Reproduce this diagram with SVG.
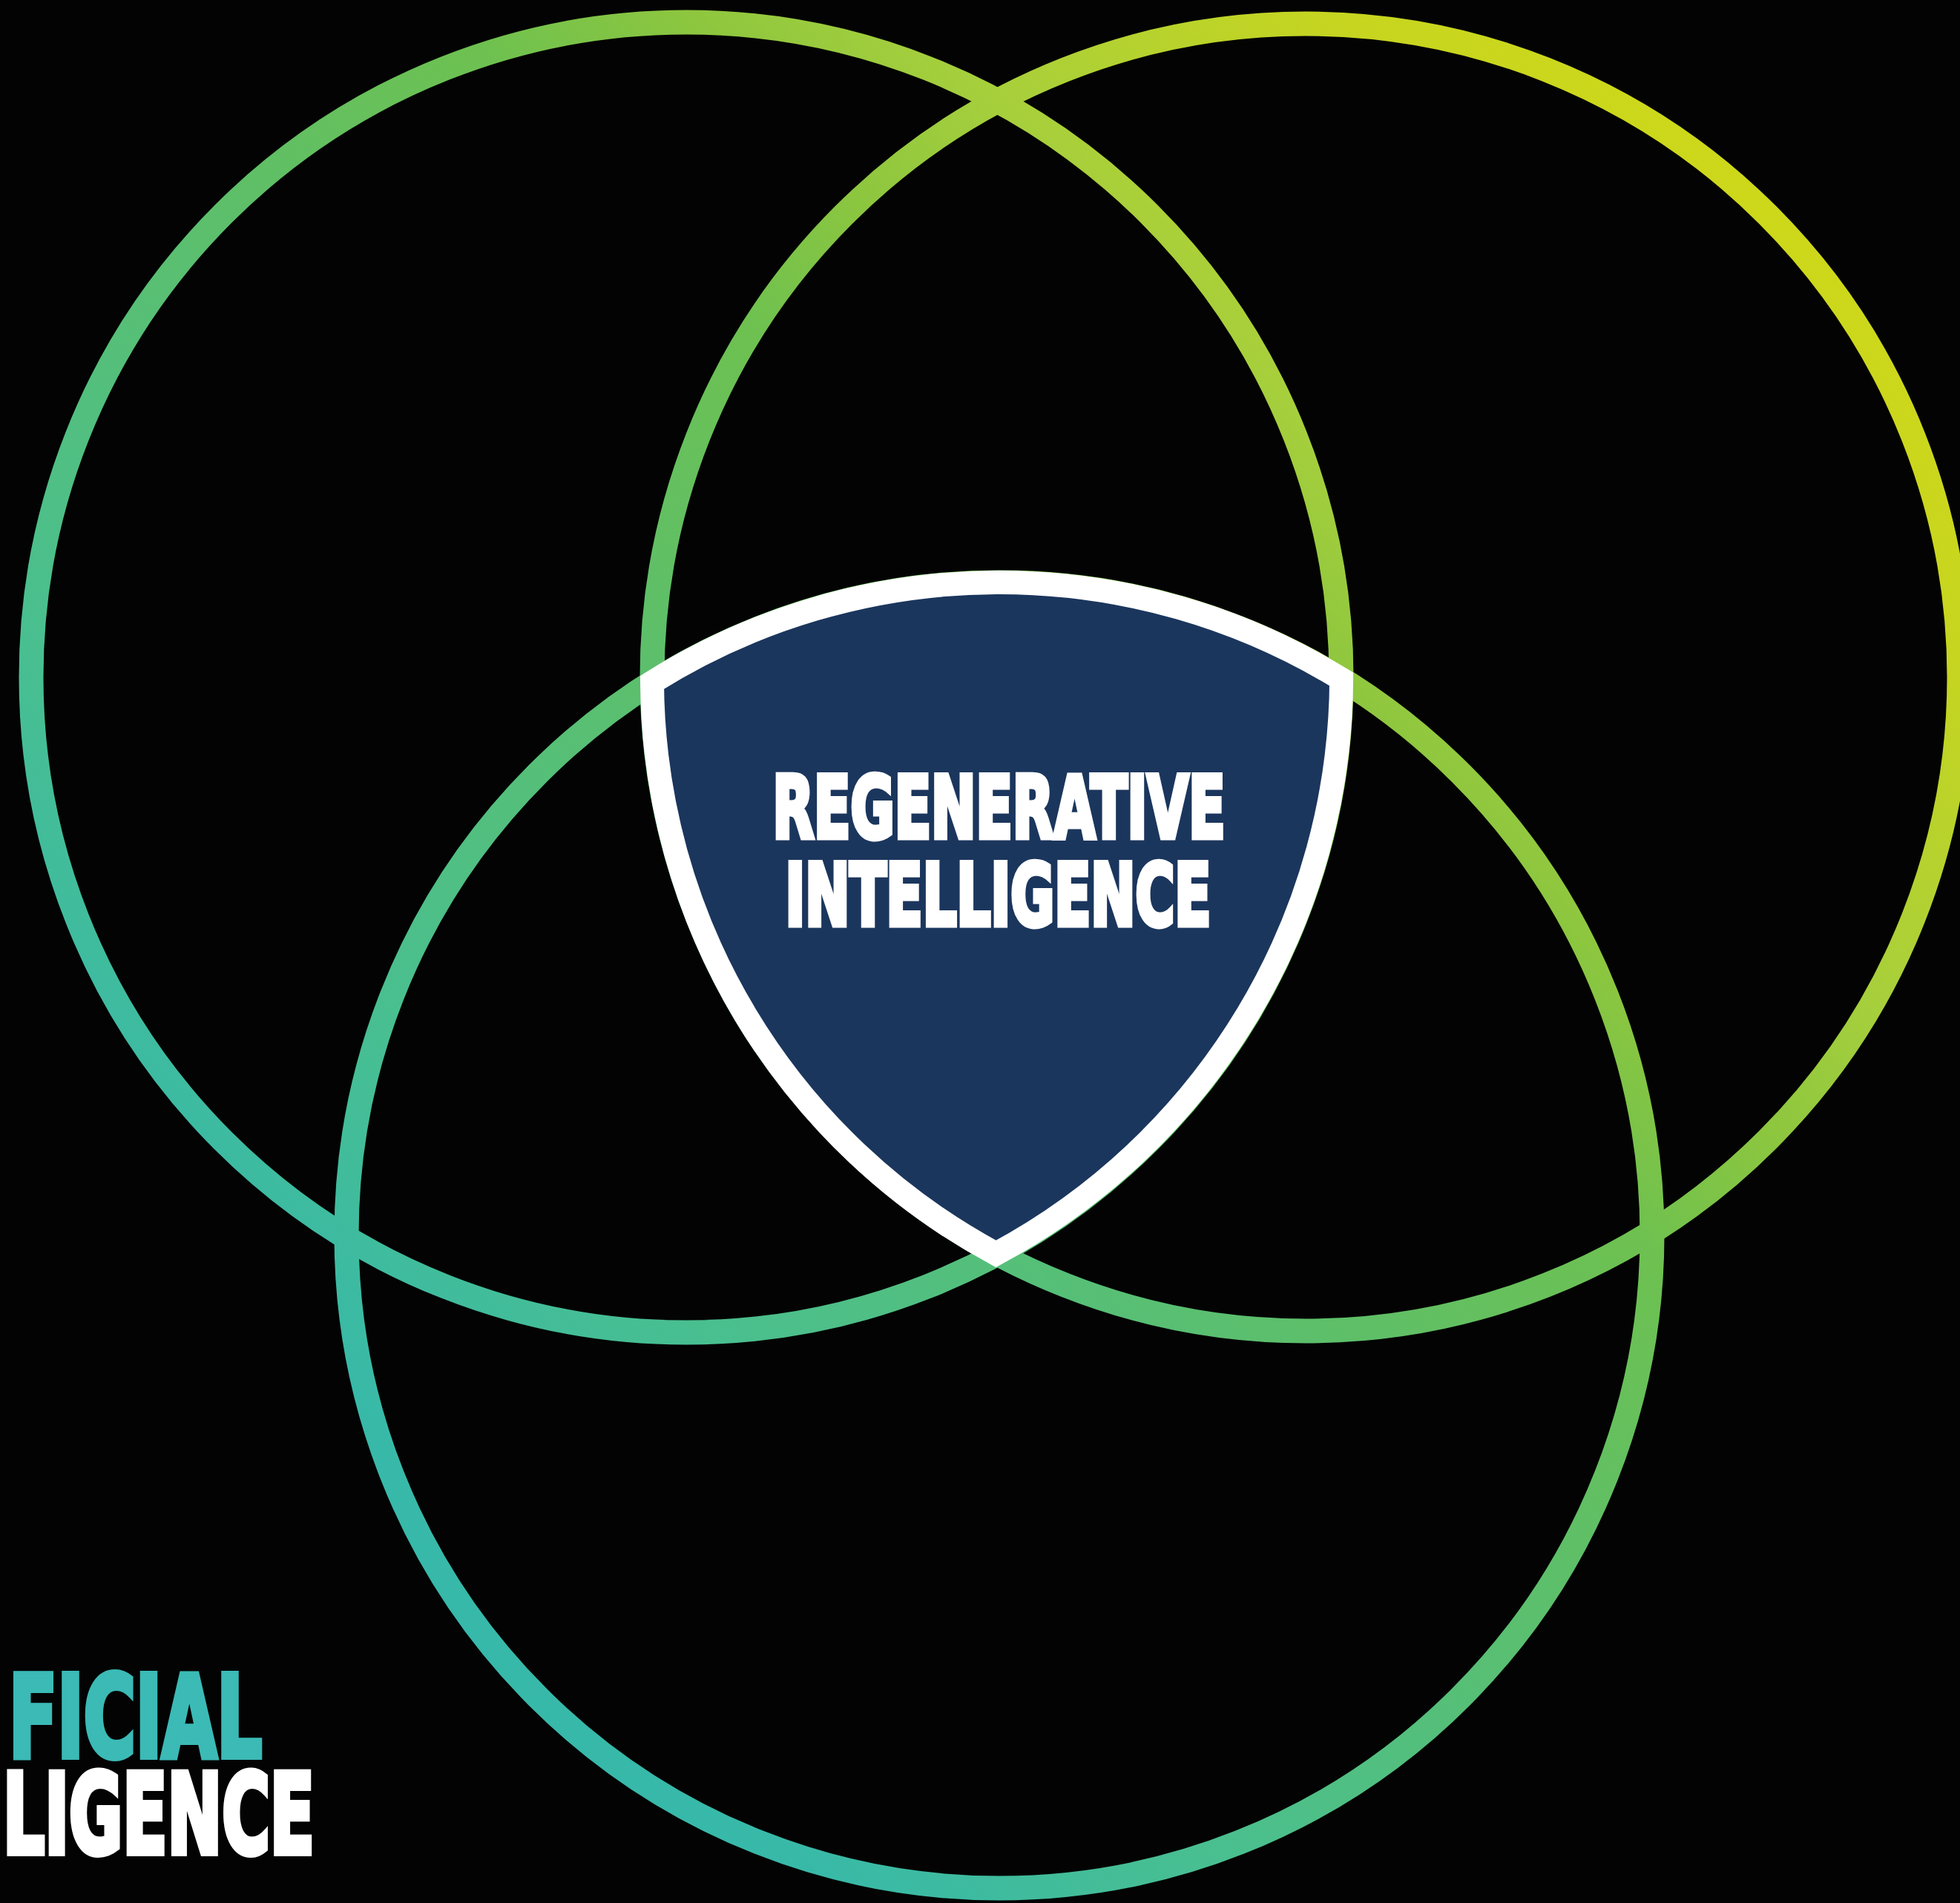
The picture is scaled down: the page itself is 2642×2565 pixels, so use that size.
<svg xmlns="http://www.w3.org/2000/svg" width="2642" height="2565" viewBox="0 0 2642 2565">
  <defs>
    <linearGradient id="ring" gradientUnits="userSpaceOnUse" x1="0" y1="2565" x2="2642" y2="0">
      <stop offset="0" stop-color="#2fb4b4"/>
      <stop offset="0.22" stop-color="#38b9a8"/>
      <stop offset="0.33" stop-color="#49bf90"/>
      <stop offset="0.5" stop-color="#5ebf68"/>
      <stop offset="0.6" stop-color="#6ec150"/>
      <stop offset="0.66" stop-color="#8cc63f"/>
      <stop offset="0.72" stop-color="#a6cf3c"/>
      <stop offset="0.83" stop-color="#c6d520"/>
      <stop offset="1" stop-color="#d8dc12"/>
    </linearGradient>
  </defs>
  <style>
    .ring { fill: none; stroke: url(#ring); stroke-width: 33; }
    .shield { fill: #1b365d; stroke: #ffffff; stroke-width: 32; stroke-linejoin: miter; }
    .label { font-family: "Liberation Sans Narrow", "DejaVu Sans Condensed", "Liberation Sans", sans-serif; font-weight: bold; stroke-linejoin: miter; }
    .white { fill: #ffffff; stroke: #ffffff; stroke-width: 7; }
    .teal { fill: #3bbab6; stroke: #3bbab6; stroke-width: 8; }
    .big { stroke-width: 8; }
  </style>
  <rect x="0" y="0" width="2642" height="2565" fill="#030303"/>
  <g id="circle-left">
    <circle class="ring" cx="925" cy="913" r="883"/>
  </g>
  <g id="circle-right">
    <circle class="ring" cx="1760" cy="913" r="881"/>
  </g>
  <g id="circle-bottom">
    <circle class="ring" cx="1347" cy="1665" r="880"/>
  </g>
  <g id="shield">
    <path class="shield" d="M 879 919.7 A 880 880 0 0 1 1808.1 915.4 A 883 883 0 0 1 1342.5 1690 A 881 881 0 0 1 879 919.7 Z"/>
    <text class="label white" x="1041.5" y="1128.5" font-size="116" textLength="610" lengthAdjust="spacingAndGlyphs">REGENERATIVE</text>
    <text class="label white" x="1058.5" y="1246.5" font-size="116" textLength="574" lengthAdjust="spacingAndGlyphs">INTELLIGENCE</text>
  </g>
  <g id="corner-label">
    <text class="label teal" x="12" y="2368" font-size="154" textLength="341" lengthAdjust="spacingAndGlyphs">FICIAL</text>
    <text class="label white big" x="4" y="2498" font-size="150" textLength="420" lengthAdjust="spacingAndGlyphs">LIGENCE</text>
  </g>
</svg>
